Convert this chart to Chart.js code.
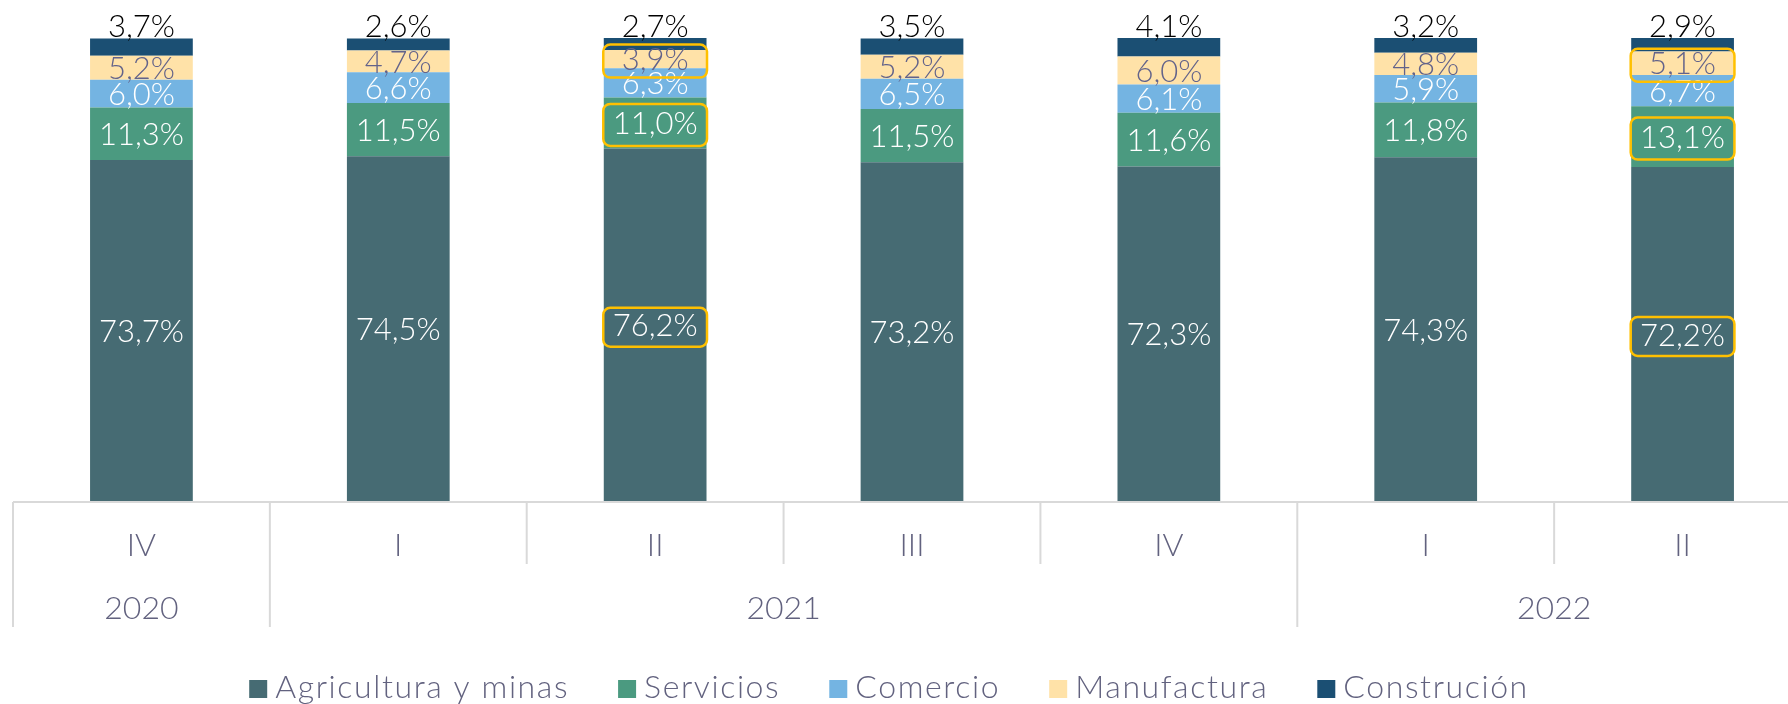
<!DOCTYPE html>
<html>
<head>
<meta charset="utf-8">
<script src="https://cdn.jsdelivr.net/npm/chart.js@4.4.0/dist/chart.umd.min.js"></script>
<style>
html,body{margin:0;padding:0;background:#fff;overflow:hidden;width:1788px;height:704px}
#wrap{position:absolute;left:0;top:0;width:1811px;height:704px}
canvas{display:block}
</style>
</head>
<body>
<div id="wrap"><canvas id="c" width="1811" height="704"></canvas></div>
<script>
// ---- data ----
const quarters = ['IV', 'I', 'II', 'III', 'IV', 'I', 'II'];
const years = ['2020', '2021', '2021', '2021', '2021', '2022', '2022'];
const seriesNames = ['Agricultura y minas', 'Servicios', 'Comercio', 'Manufactura', 'Construción'];
const agricultura = [73.7, 74.5, 76.2, 73.2, 72.3, 74.3, 72.2];
const servicios = [11.3, 11.5, 11.0, 11.5, 11.6, 11.8, 13.1];
const comercio = [6.0, 6.6, 6.3, 6.5, 6.1, 5.9, 6.7];
const manufactura = [5.2, 4.7, 3.9, 5.2, 6.0, 4.8, 5.1];
const construccion = [3.7, 2.6, 2.7, 3.5, 4.1, 3.2, 2.9];
// highlighted labels: [series index, category index]
const highlights = [[3, 2], [1, 2], [0, 2], [3, 6], [1, 6], [0, 6]];

// ---- style ----
const colors = ['#466B73', '#4B9A80', '#74B4E2', '#FFE2A8', '#1B4F73'];
const labelColors = ['#ffffff', '#ffffff', '#ffffff', '#63638a', '#000000'];
const textColor = '#62627f';
const FONT = '"Lato", "Open Sans", sans-serif';
const gridColor = '#d9d9d9';

function fmt(v) { return v.toFixed(1).replace('.', ',') + '%'; }

const axisPlugin = {
  id: 'groupAxis',
  afterDatasetsDraw(chart) {
    const ctx = chart.ctx;
    const xs = chart.scales.x;
    const area = chart.chartArea;
    const step = xs.getPixelForValue(1) - xs.getPixelForValue(0);
    const half = step / 2;
    const bottom = area.bottom;
    ctx.save();
    ctx.strokeStyle = gridColor;
    ctx.lineWidth = 2;
    ctx.beginPath();
    ctx.moveTo(area.left, bottom);
    ctx.lineTo(chart.width, bottom);
    ctx.stroke();
    const n = quarters.length;
    for (let i = 0; i <= n; i++) {
      const x = i < n ? xs.getPixelForValue(i) - half : xs.getPixelForValue(n - 1) + half;
      const long = (i === 0 || i === n || years[i] !== years[i - 1]);
      ctx.beginPath();
      ctx.moveTo(x, bottom);
      ctx.lineTo(x, bottom + (long ? 125 : 62));
      ctx.stroke();
    }
    ctx.fillStyle = textColor;
    ctx.font = '300 32px ' + FONT;
    ctx.textAlign = 'center';
    ctx.textBaseline = 'alphabetic';
    for (let i = 0; i < n; i++) {
      ctx.fillText(quarters[i], xs.getPixelForValue(i), bottom + 54);
    }
    let s = 0;
    for (let i = 1; i <= n; i++) {
      if (i === n || years[i] !== years[s]) {
        const x1 = xs.getPixelForValue(s) - half;
        const x2 = xs.getPixelForValue(i - 1) + half;
        ctx.fillText(years[s], (x1 + x2) / 2, bottom + 117);
        s = i;
      }
    }
    ctx.restore();
  }
};

const labelPlugin = {
  id: 'barLabels',
  afterDatasetsDraw(chart) {
    const ctx = chart.ctx;
    ctx.save();
    const size = 31;
    ctx.font = '300 ' + size + 'px ' + FONT;
    ctx.textAlign = 'center';
    ctx.textBaseline = 'alphabetic';
    const cap = size * 0.72;
    const centers = {};
    chart.data.datasets.forEach((ds, di) => {
      const meta = chart.getDatasetMeta(di);
      meta.data.forEach((el, j) => {
        const v = ds.data[j];
        ctx.fillStyle = labelColors[di];
        let cy;
        if (di === chart.data.datasets.length - 1) {
          cy = el.y - 1 - cap / 2;
        } else {
          cy = (el.y + el.base) / 2;
        }
        centers[di + '_' + j] = {x: el.x, y: cy, w: el.width};
        ctx.fillText(fmt(v), el.x, cy + cap / 2);
      });
    });
    // highlight boxes
    ctx.strokeStyle = '#FFC000';
    ctx.lineWidth = 2.5;
    const boxH = {0: 39, 1: 42, 3: 33};
    highlights.forEach(([di, j]) => {
      const c = centers[di + '_' + j];
      const w = c.w + 1, h = boxH[di] || 38;
      ctx.beginPath();
      ctx.roundRect(c.x - w / 2, c.y + 2 - h / 2, w, h, 7);
      ctx.stroke();
    });
    ctx.restore();
  }
};

const legendPlugin = {
  id: 'customLegend',
  afterDraw(chart) {
    const ctx = chart.ctx;
    ctx.save();
    ctx.font = '300 32px ' + FONT;
    try { ctx.letterSpacing = '1.6px'; } catch (e) {}
    const box = 18, gapBox = 8, gapItem = 49;
    const widths = seriesNames.map(t => ctx.measureText(t).width);
    const total = widths.reduce((a, b) => a + b, 0) + seriesNames.length * (box + gapBox) + (seriesNames.length - 1) * gapItem;
    let x = 889 - total / 2;
    const baseY = 698;
    ctx.textAlign = 'left';
    ctx.textBaseline = 'alphabetic';
    seriesNames.forEach((t, i) => {
      ctx.fillStyle = colors[i];
      ctx.fillRect(x, baseY - box, box, box);
      x += box + gapBox;
      ctx.fillStyle = textColor;
      ctx.fillText(t, x, baseY);
      x += widths[i] + gapItem;
    });
    ctx.restore();
  }
};

const seriesData = [agricultura, servicios, comercio, manufactura, construccion];

new Chart(document.getElementById('c').getContext('2d'), {
  type: 'bar',
  data: {
    labels: quarters,
    datasets: seriesData.map((d, i) => ({
      label: seriesNames[i],
      data: d,
      backgroundColor: colors[i],
      borderWidth: 0,
      barPercentage: 0.4,
      categoryPercentage: 1
    }))
  },
  options: {
    responsive: false,
    animation: false,
    devicePixelRatio: 1,
    layout: {padding: {left: 13, right: 0, top: 38, bottom: 202}},
    scales: {
      x: {stacked: true, display: false},
      y: {stacked: true, display: false, min: 0, max: 100}
    },
    plugins: {legend: {display: false}, tooltip: {enabled: false}}
  },
  plugins: [axisPlugin, labelPlugin, legendPlugin]
});
</script>
</body>
</html>
